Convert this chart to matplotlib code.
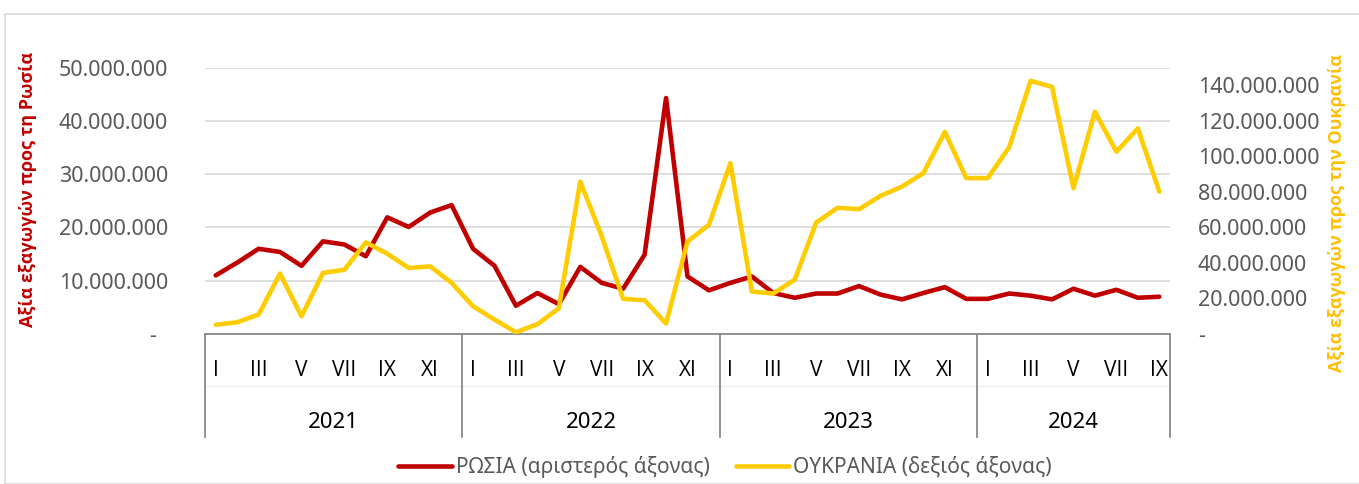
import matplotlib.pyplot as plt
import matplotlib.transforms as mtransforms
from matplotlib.patches import Rectangle
from matplotlib.ticker import FuncFormatter, MultipleLocator

plt.rcParams['font.family'] = ['Noto Sans', 'DejaVu Sans']

# μηνιαίες τιμές εξαγωγών (εκατ. ευρώ), Ιαν 2021 - Σεπ 2024
years = ['2021', '2022', '2023', '2024']
months_per_year = [12, 12, 12, 9]
roman = ['I', 'II', 'III', 'IV', 'V', 'VI', 'VII', 'VIII', 'IX', 'X', 'XI', 'XII']

russia = [11.0, 13.4, 16.0, 15.4, 12.8, 17.4, 16.8, 14.6, 21.9, 20.1, 22.8, 24.2,
          16.0, 12.8, 5.3, 7.7, 5.6, 12.6, 9.6, 8.5, 14.9, 44.3, 10.8, 8.2,
          9.6, 10.8, 7.7, 6.8, 7.6, 7.6, 9.0, 7.4, 6.5, 7.7, 8.8, 6.6,
          6.6, 7.6, 7.2, 6.5, 8.5, 7.2, 8.3, 6.8, 7.0]
ukraine = [5.2, 6.6, 11.0, 34.0, 10.0, 34.4, 36.2, 51.6, 45.2, 37.2, 38.1, 28.8,
           15.6, 8.1, 1.0, 5.5, 14.5, 85.8, 55.0, 19.8, 19.0, 5.9, 52.1, 61.5,
           96.2, 23.9, 22.8, 30.6, 62.8, 71.1, 70.3, 77.8, 83.0, 90.6, 113.8, 87.8,
           87.8, 105.2, 142.6, 139.2, 82.1, 125.2, 102.7, 115.8, 80.2]

russia = [v * 1e6 for v in russia]
ukraine = [v * 1e6 for v in ukraine]
x = list(range(len(russia)))

RED = '#C00000'
YEL = '#FFCC00'
GRAY = '#595959'


def fmt(v, pos):
    if abs(v) < 1:
        return '-  '
    return f'{v:,.0f}'.replace(',', '.')


def fmt_r(v, pos):
    if abs(v) < 1:
        return '-'
    return f'{v:,.0f}'.replace(',', '.')


W, H = 1359, 484
fig = plt.figure(figsize=(W / 100, H / 100), dpi=100)
fig.patches.append(Rectangle((5 / W, 0), 1, 1 - 14 / H, transform=fig.transFigure,
                             fill=False, edgecolor='#D9D9D9', lw=1.2))

ax = fig.add_axes([205 / W, (H - 334) / H, (1170 - 205) / W, (334 - 67.7) / H])
ax2 = ax.twinx()

ax.plot(x, russia, color=RED, lw=3.3, solid_joinstyle='round', solid_capstyle='round',
        label='ΡΩΣΙΑ (αριστερός άξονας)', zorder=3)
ax2.plot(x, ukraine, color=YEL, lw=3.3, solid_joinstyle='round', solid_capstyle='round',
         label='ΟΥΚΡΑΝΙΑ (δεξιός άξονας)', zorder=3)

ax.set_xlim(-0.5, len(x) - 0.5)
ax.set_ylim(0, 50e6)
ax2.set_ylim(0, 150e6)
ax.yaxis.set_major_locator(MultipleLocator(10e6))
ax2.yaxis.set_major_locator(MultipleLocator(20e6))
ax.yaxis.set_major_formatter(FuncFormatter(fmt))
ax2.yaxis.set_major_formatter(FuncFormatter(fmt_r))
ax.grid(axis='y', color='#D9D9D9', lw=1.2)
ax.set_axisbelow(True)

for a in (ax, ax2):
    for s in ('top', 'left', 'right', 'bottom'):
        a.spines[s].set_visible(False)
ax.tick_params(axis='y', length=0, pad=26.5, labelsize=15.5, labelcolor=GRAY)
ax2.tick_params(axis='y', length=0, pad=20, labelsize=15.5, labelcolor=GRAY)
ax.set_xticks([])

# πολυεπίπεδος άξονας κατηγοριών
tr = mtransforms.blended_transform_factory(ax.transData, ax.transAxes)
axh = 334 - 67.7
bottom = -(437 - 334) / axh
ax.plot([-0.5, len(x) - 0.5], [0, 0], color='#898989', lw=1.3, transform=tr, clip_on=False)
ax.plot([-0.5, len(x) - 0.5], [-(386 - 334) / axh] * 2, color='#F0F0F0', lw=1,
        transform=tr, clip_on=False)
start = 0
bounds = [-0.5]
for yr, n in zip(years, months_per_year):
    for m in range(0, n, 2):
        ax.text(start + m, -(371 - 334) / axh, roman[m], transform=tr, ha='center',
                va='center', fontsize=15, color='black',
                family=['Open Sans', 'DejaVu Sans'])
    ax.text(start + (n - 1) / 2, -(422 - 334) / axh, yr, transform=tr, ha='center',
            va='center', fontsize=16, color='black')
    start += n
    bounds.append(start - 0.5)
for b in bounds:
    ax.plot([b, b], [0, bottom], color='#898989', lw=1.3, transform=tr, clip_on=False)

fig.text(28 / W, 1 - 189 / H, 'Αξία εξαγωγών προς τη Ρωσία', rotation=90,
         ha='center', va='center', color=RED, fontsize=13, fontweight='bold',
         family=['Open Sans', 'DejaVu Sans'])
fig.text(1337 / W, 1 - 213 / H, 'Αξία εξαγωγών προς την Ουκρανία', rotation=90,
         ha='center', va='center', color='#FFC000', fontsize=13, fontweight='bold',
         family=['Open Sans', 'DejaVu Sans'])

h1, l1 = ax.get_legend_handles_labels()
h2, l2 = ax2.get_legend_handles_labels()
leg = fig.legend(h1 + h2, l1 + l2, loc='center', bbox_to_anchor=(725 / W, 1 - 467 / H),
                 ncol=2, frameon=False, fontsize=15, handlelength=2.55,
                 handletextpad=0.2, columnspacing=1.25)
for t in leg.get_texts():
    t.set_color(GRAY)

fig.savefig('out.png', dpi=100)
